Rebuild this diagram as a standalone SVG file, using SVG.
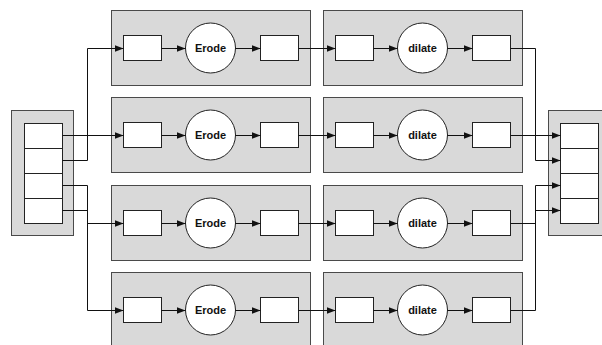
<svg xmlns="http://www.w3.org/2000/svg" width="602" height="345" viewBox="0 0 602 345">
  <style>
    .panel { fill: #d9d9d9; stroke: #4a4a4a; stroke-width: 1; }
    .cell { fill: #ffffff; stroke: #222222; stroke-width: 1; }
    .op { fill: #ffffff; stroke: #222222; stroke-width: 1; }
    .lbl { font-family: "Liberation Sans", Arial, sans-serif; font-size: 11px; font-weight: bold; fill: #111111; text-anchor: middle; }
    .wire { fill: none; stroke: #111111; stroke-width: 1; }
    .arrow { marker-end: url(#head); }
  </style>
  <defs>
    <marker id="head" markerWidth="9" markerHeight="7" refX="9" refY="3.5" orient="auto" markerUnits="userSpaceOnUse">
      <path d="M0,0 L9,3.5 L0,7 z" fill="#111111"/>
    </marker>
    <!-- one processing stage: panel, input cell, operator, output cell -->
    <g id="stageErode">
      <rect class="panel" x="0.5" y="0.5" width="199" height="75"/>
      <rect class="cell" x="12.5" y="25.5" width="38" height="25"/>
      <circle class="op" cx="99.5" cy="38" r="25"/>
      <text class="lbl" x="99.5" y="42">Erode</text>
      <rect class="cell" x="149.5" y="25.5" width="38" height="25"/>
    </g>
    <g id="stageDilate">
      <rect class="panel" x="0.5" y="0.5" width="199" height="75"/>
      <rect class="cell" x="12.5" y="25.5" width="38" height="25"/>
      <circle class="op" cx="99.5" cy="38" r="25"/>
      <text class="lbl" x="99.5" y="42">dilate</text>
      <rect class="cell" x="149.5" y="25.5" width="38" height="25"/>
    </g>
  </defs>

  <!-- input buffer -->
  <g id="input">
    <rect class="panel" x="11.5" y="110.5" width="62" height="125"/>
    <rect class="cell" x="24.5" y="123.5" width="38" height="25"/>
    <rect class="cell" x="24.5" y="148.5" width="38" height="25"/>
    <rect class="cell" x="24.5" y="173.5" width="38" height="25"/>
    <rect class="cell" x="24.5" y="198.5" width="38" height="25"/>
  </g>

  <!-- output buffer -->
  <g id="output">
    <rect class="panel" x="548.5" y="110.5" width="62" height="125"/>
    <rect class="cell" x="560.5" y="123.5" width="38" height="25"/>
    <rect class="cell" x="560.5" y="148.5" width="38" height="25"/>
    <rect class="cell" x="560.5" y="173.5" width="38" height="25"/>
    <rect class="cell" x="560.5" y="198.5" width="38" height="25"/>
  </g>

  <!-- erode stages -->
  <g id="erode1"><use href="#stageErode" x="111" y="10"/></g>
  <g id="erode2"><use href="#stageErode" x="111" y="97"/></g>
  <g id="erode3"><use href="#stageErode" x="111" y="185"/></g>
  <g id="erode4"><use href="#stageErode" x="111" y="272"/></g>

  <!-- dilate stages -->
  <g id="dilate1"><use href="#stageDilate" x="323" y="10"/></g>
  <g id="dilate2"><use href="#stageDilate" x="323" y="97"/></g>
  <g id="dilate3"><use href="#stageDilate" x="323" y="185"/></g>
  <g id="dilate4"><use href="#stageDilate" x="323" y="272"/></g>

  <g id="connectors">
    <!-- input buffer to erode stages -->
    <path class="wire arrow" d="M62.5,160.5 H87.5 V48.5 H123.5"/>
    <path class="wire arrow" d="M62.5,135.5 H123.5"/>
    <path class="wire arrow" d="M62.5,210.5 H87.5 V223.5 H123.5"/>
    <path class="wire arrow" d="M62.5,185.5 H87.5 V310.5 H123.5"/>

    <!-- inside each row -->
    <path class="wire arrow" d="M161.5,48.5 H185.5"/>
    <path class="wire arrow" d="M235.5,48.5 H260.5"/>
    <path class="wire arrow" d="M298.5,48.5 H335.5"/>
    <path class="wire arrow" d="M373.5,48.5 H397.5"/>
    <path class="wire arrow" d="M447.5,48.5 H472.5"/>

    <path class="wire arrow" d="M161.5,135.5 H185.5"/>
    <path class="wire arrow" d="M235.5,135.5 H260.5"/>
    <path class="wire arrow" d="M298.5,135.5 H335.5"/>
    <path class="wire arrow" d="M373.5,135.5 H397.5"/>
    <path class="wire arrow" d="M447.5,135.5 H472.5"/>

    <path class="wire arrow" d="M161.5,223.5 H185.5"/>
    <path class="wire arrow" d="M235.5,223.5 H260.5"/>
    <path class="wire arrow" d="M298.5,223.5 H335.5"/>
    <path class="wire arrow" d="M373.5,223.5 H397.5"/>
    <path class="wire arrow" d="M447.5,223.5 H472.5"/>

    <path class="wire arrow" d="M161.5,310.5 H185.5"/>
    <path class="wire arrow" d="M235.5,310.5 H260.5"/>
    <path class="wire arrow" d="M298.5,310.5 H335.5"/>
    <path class="wire arrow" d="M373.5,310.5 H397.5"/>
    <path class="wire arrow" d="M447.5,310.5 H472.5"/>

    <!-- dilate stages to output buffer -->
    <path class="wire arrow" d="M510.5,48.5 H535.5 V160.5 H560.5"/>
    <path class="wire arrow" d="M510.5,135.5 H560.5"/>
    <path class="wire arrow" d="M510.5,223.5 H535.5 V210.5 H560.5"/>
    <path class="wire arrow" d="M510.5,310.5 H535.5 V185.5 H560.5"/>
  </g>
</svg>
